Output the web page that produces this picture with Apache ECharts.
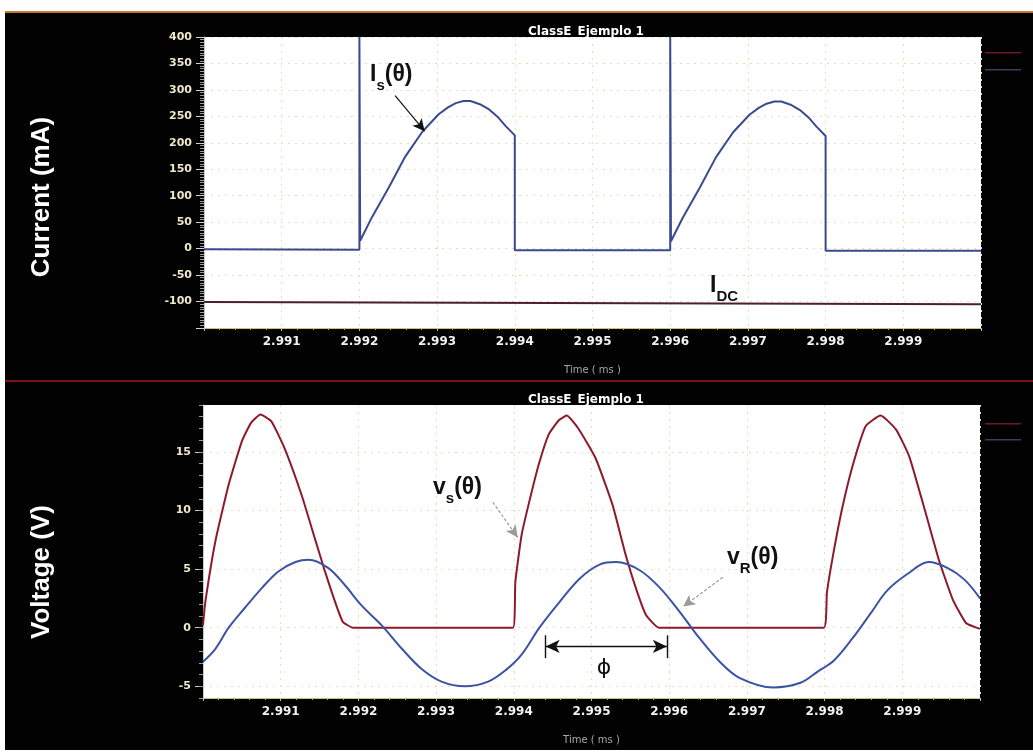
<!DOCTYPE html>
<html>
<head>
<meta charset="utf-8">
<script src="https://cdn.jsdelivr.net/npm/echarts@6/dist/echarts.min.js"></script>
<style>
  html, body { margin: 0; padding: 0; background: #ffffff; }
  #frame { position: absolute; left: 5px; top: 11px; width: 1028px; height: 739px;
           background: #020202; border-top: 2px solid #c8782a; box-sizing: border-box; }
  #chart { position: absolute; left: 0; top: 0; width: 1033px; height: 753px; }
</style>
</head>
<body>
<div id="frame"></div>
<div id="chart"></div>
<script>
// ---- Switch current Is (mA) vs time (ms) ----
const isTime = [
  2.99000, 2.99200, 2.99200, 2.99201, 2.99216, 2.99238, 2.99259, 2.99281, 2.99302,
  2.99314, 2.99324, 2.99334, 2.99343, 2.99355, 2.99367, 2.99378, 2.99388, 2.99400, 2.99400,
  2.99600, 2.99600, 2.99601, 2.99616, 2.99638, 2.99659, 2.99681, 2.99702,
  2.99714, 2.99724, 2.99734, 2.99743, 2.99755, 2.99767, 2.99778, 2.99788, 2.99800, 2.99800,
  3.00000
];
const isCurrent = [
  -1, -2, 400, 15, 59, 116, 174, 221, 254,
  267, 275, 279, 279, 273, 263, 249, 232, 214, -3,
  -3, 400, 14, 58, 115, 173, 220, 253,
  266, 274, 278, 278, 272, 262, 248, 231, 213, -4,
  -4
];

// ---- DC supply current IDC (mA) ----
const dcTime = [2.99000, 3.00000];
const dcCurrent = [-101, -105];

// ---- Switch voltage vs (V) ----
const vsTime = [
  2.99000, 2.99003, 2.99016, 2.99033, 2.99050, 2.99062, 2.99074, 2.99088, 2.99105,
  2.99127, 2.99144, 2.99157, 2.99170, 2.99180, 2.99193, 2.99399,
  2.99402, 2.99410, 2.99419, 2.99432, 2.99445, 2.99458, 2.99468, 2.99483, 2.99505,
  2.99527, 2.99544, 2.99557, 2.99570, 2.99587, 2.99799,
  2.99803, 2.99812, 2.99823, 2.99836, 2.99853, 2.99872, 2.99892, 2.99909,
  2.99930, 2.99947, 2.99965, 2.99982, 3.00000
];
const vsVolt = [
  0.2, 2.2, 7.4, 12.2, 15.9, 17.5, 18.2, 17.6, 15.3,
  11.3, 7.6, 4.8, 2.2, 0.5, 0.0, 0.0,
  3.9, 7.9, 10.5, 13.9, 16.5, 17.7, 18.1, 17.0, 14.5,
  10.5, 6.2, 3.4, 1.1, 0.0, 0.0,
  3.0, 6.6, 10.3, 13.8, 17.2, 18.1, 16.9, 14.6,
  9.8, 5.8, 2.4, 0.4, -0.1
];

// ---- Load voltage vR (V) ----
const vrTime = [
  2.99000, 2.99016, 2.99033, 2.99054, 2.99076, 2.99097, 2.99119, 2.99136, 2.99161,
  2.99183, 2.99204, 2.99230, 2.99256, 2.99281, 2.99307, 2.99337, 2.99367, 2.99390,
  2.99410, 2.99433, 2.99459, 2.99485, 2.99511, 2.99532, 2.99562, 2.99588, 2.99613,
  2.99639, 2.99665, 2.99691, 2.99734, 2.99769, 2.99792, 2.99812, 2.99836, 2.99859,
  2.99881, 2.99907, 2.99934, 2.99958, 2.99980, 3.00000
];
const vrVolt = [
  -2.9, -1.8, 0.0, 1.7, 3.4, 4.8, 5.6, 5.8, 5.1,
  3.6, 1.9, 0.2, -1.8, -3.5, -4.6, -5.0, -4.6, -3.6,
  -2.3, 0.0, 2.2, 4.2, 5.4, 5.6, 4.9, 3.4, 1.4,
  -0.9, -2.9, -4.3, -5.1, -4.7, -3.7, -2.8, -0.9, 1.2,
  3.2, 4.6, 5.6, 5.1, 4.1, 2.5
];

// ---- Axes ----
const timeMin = 2.990, timeMax = 3.000, timeStep = 0.001;
const currentMin = -150, currentMax = 400, currentStep = 50;
const voltMin = -6, voltMax = 19;
const voltTicks = [-5, 0, 5, 10, 15];

// ---- Phase-shift marker (time span, level) ----
const phiSpan = [2.99441, 2.99597];
const phiLevel = -1.6;

const pairs = (xs, ys) => xs.map((x, i) => [x, ys[i]]);

const COL_IS = '#3a4a8e';
const COL_DC = '#4a1f30';
const COL_VS = '#8c1a2c';
const COL_VR = '#3d52a3';
const GRID_COL = '#e6e0b8';
const NUM_FONT = 'DejaVu Sans';
const ANN_FONT = 'Liberation Sans';

function timeAxis(gridIndex) {
  return {
    type: 'value', gridIndex, min: timeMin, max: timeMax, interval: timeStep,
    position: 'bottom',
    name: 'Time ( ms )', nameLocation: 'middle', nameGap: 37,
    nameTextStyle: { color: '#a8a8a8', fontSize: 10, fontFamily: NUM_FONT },
    axisLine: { show: true, onZero: false, lineStyle: { color: '#cfc27a', width: 1 } },
    axisTick: { show: true, length: 3, lineStyle: { color: '#cfc27a' } },
    minorTick: { show: true, splitNumber: 5, length: 2, lineStyle: { color: '#bfb26a' } },
    axisLabel: {
      color: '#f2f2f2', fontSize: 12, fontWeight: 'bold', fontFamily: NUM_FONT, margin: 8,
      showMinLabel: false, showMaxLabel: false,
      formatter: v => v.toFixed(3)
    },
    splitLine: { show: true, lineStyle: { color: GRID_COL, type: [2, 5], width: 1 } }
  };
}

const yLabelStyle = {
  color: '#efe8cc', fontSize: 11, fontWeight: 'bold', fontFamily: NUM_FONT, margin: 12
};

const arrowMark = (from, to, color, dashed) => ({
  silent: true, animation: false,
  symbol: ['none', 'arrow'], symbolSize: [9, 12],
  label: { show: false },
  lineStyle: { color, width: 1.2, type: dashed ? [3, 2] : 'solid' },
  emphasis: { disabled: true },
  data: [[{ coord: from }, { coord: to }]]
});

const subLabel = (x, y, main, sub, tail) => ({
  type: 'text', x, y, z: 50,
  style: {
    text: '{m|' + main + '}{s|' + sub + '}' + (tail ? '{m|' + tail + '}' : ''),
    rich: {
      m: { fontSize: 23, fontWeight: 'bold', fontFamily: ANN_FONT, fill: '#111', verticalAlign: 'top', lineHeight: 30 },
      s: { fontSize: 15, fontWeight: 'bold', fontFamily: ANN_FONT, fill: '#111', verticalAlign: 'bottom', lineHeight: 30 }
    }
  }
});

const titleStyle = { color: '#ffffff', fontSize: 12, fontWeight: 'bold', fontFamily: NUM_FONT, lineHeight: 14 };

const option = {
  animation: false,
  backgroundColor: 'transparent',
  title: [
    { text: 'ClassE_Ejemplo 1', left: 581, top: 20, textAlign: 'center', zlevel: 1, textStyle: titleStyle },
    { text: 'ClassE_Ejemplo 1', left: 581, top: 388, textAlign: 'center', zlevel: 1, textStyle: titleStyle }
  ],
  grid: [
    { left: 204, top: 37, right: 52, height: 291, show: true,
      backgroundColor: '#ffffff', borderWidth: 0 },
    { left: 203, top: 405, right: 53, height: 293, show: true,
      backgroundColor: '#ffffff', borderWidth: 0 }
  ],
  xAxis: [timeAxis(0), timeAxis(1)],
  yAxis: [
    {
      type: 'value', gridIndex: 0, position: 'left',
      min: currentMin, max: currentMax, interval: currentStep,
      axisLine: { show: true, onZero: false, lineStyle: { color: '#c8c8c8' } },
      axisTick: { show: true, length: 8, lineStyle: { color: '#d0d0d0' } },
      minorTick: { show: true, splitNumber: 10, length: 4, lineStyle: { color: '#9a9a9a' } },
      axisLabel: Object.assign({}, yLabelStyle, { showMinLabel: false }),
      splitLine: { show: true, lineStyle: { color: GRID_COL, type: [2, 5] } }
    },
    {
      type: 'value', gridIndex: 1, position: 'left', min: voltMin, max: voltMax,
      axisLine: { show: true, onZero: false, lineStyle: { color: '#c8c8c8' } },
      axisTick: { show: true, length: 8, customValues: voltTicks, lineStyle: { color: '#d0d0d0' } },
      axisLabel: Object.assign({}, yLabelStyle, { customValues: voltTicks }),
      splitLine: { show: true, lineStyle: { color: GRID_COL, type: [2, 5] } }
    },
    {
      // fine 1 V ticks along the voltage axis
      type: 'value', gridIndex: 1, position: 'left', offset: 0,
      min: voltMin, max: voltMax, interval: 1,
      axisLine: { show: false, onZero: false },
      axisTick: { show: true, length: 4, lineStyle: { color: '#9a9a9a' } },
      axisLabel: { show: false },
      splitLine: { show: false }
    }
  ],
  series: [
    {
      name: 'Is', type: 'line', xAxisIndex: 0, yAxisIndex: 0,
      data: pairs(isTime, isCurrent), showSymbol: false,
      lineStyle: { color: COL_IS, width: 2 }, clip: true,
      markLine: arrowMark([2.99246, 289], [2.99284, 222], '#111111', false)
    },
    {
      name: 'IDC', type: 'line', xAxisIndex: 0, yAxisIndex: 0,
      data: pairs(dcTime, dcCurrent), showSymbol: false,
      lineStyle: { color: COL_DC, width: 2 }
    },
    {
      name: 'vs', type: 'line', xAxisIndex: 1, yAxisIndex: 1,
      data: pairs(vsTime, vsVolt), showSymbol: false, smooth: 0.15,
      lineStyle: { color: COL_VS, width: 2 },
      markLine: arrowMark([2.99373, 10.7], [2.99405, 7.7], '#9a9a9a', true)
    },
    {
      name: 'vR', type: 'line', xAxisIndex: 1, yAxisIndex: 1,
      data: pairs(vrTime, vrVolt), showSymbol: false, smooth: 0.35,
      lineStyle: { color: COL_VR, width: 2 },
      markLine: arrowMark([2.99669, 4.3], [2.99618, 1.8], '#9a9a9a', true)
    },
    {
      // phase difference marker between the vR peak and the end of the vs pulse
      name: 'phi', type: 'line', xAxisIndex: 1, yAxisIndex: 1, data: [],
      markLine: {
        silent: true, animation: false, label: { show: false },
        emphasis: { disabled: true },
        lineStyle: { color: '#111111', width: 1.4, type: 'solid' },
        data: [
          [{ coord: [phiSpan[0], phiLevel], symbol: 'arrow', symbolSize: [10, 14] },
           { coord: [phiSpan[1], phiLevel], symbol: 'arrow', symbolSize: [10, 14] }],
          [{ coord: [phiSpan[0], phiLevel + 0.95], symbol: 'none' },
           { coord: [phiSpan[0], phiLevel - 1.0], symbol: 'none' }],
          [{ coord: [phiSpan[1], phiLevel + 0.95], symbol: 'none' },
           { coord: [phiSpan[1], phiLevel - 1.0], symbol: 'none' }]
        ]
      }
    }
  ],
  graphic: [
    // separator between the two panels
    { type: 'rect', shape: { x: 5, y: 380, width: 1028, height: 2 },
      style: { fill: '#7a1414' }, silent: true },
    // trace keys at the right edge of each panel
    { type: 'rect', shape: { x: 985, y: 52, width: 36, height: 1.5 }, style: { fill: '#6a1a28' }, silent: true },
    { type: 'rect', shape: { x: 985, y: 69, width: 36, height: 1.5 }, style: { fill: '#3a3e58' }, silent: true },
    { type: 'rect', shape: { x: 985, y: 423, width: 36, height: 1.5 }, style: { fill: '#6a1a28' }, silent: true },
    { type: 'rect', shape: { x: 985, y: 439, width: 36, height: 1.5 }, style: { fill: '#3a3e58' }, silent: true },
    // vertical axis titles
    { type: 'text', x: 42, y: 197, rotation: Math.PI / 2,
      style: { text: 'Current (mA)', fill: '#ffffff', font: 'bold 26px "Liberation Sans"',
               textAlign: 'center', textVerticalAlign: 'middle' } },
    { type: 'text', x: 42, y: 572, rotation: Math.PI / 2,
      style: { text: 'Voltage (V)', fill: '#ffffff', font: 'bold 26px "Liberation Sans"',
               textAlign: 'center', textVerticalAlign: 'middle' } },
    // waveform labels
    subLabel(370, 63, 'I', 's', '(θ)'),
    subLabel(710, 274, 'I', 'DC', ''),
    subLabel(433, 476, 'v', 's', '(θ)'),
    subLabel(727, 546, 'v', 'R', '(θ)'),
    { type: 'text', x: 604, y: 668, z: 50,
      style: { text: 'ϕ', fill: '#111', font: '22px "DejaVu Sans"',
               textAlign: 'center', textVerticalAlign: 'middle' } }
  ]
};

const chart = echarts.init(document.getElementById('chart'), null, { renderer: 'canvas' });
chart.setOption(option);
</script>
</body>
</html>
